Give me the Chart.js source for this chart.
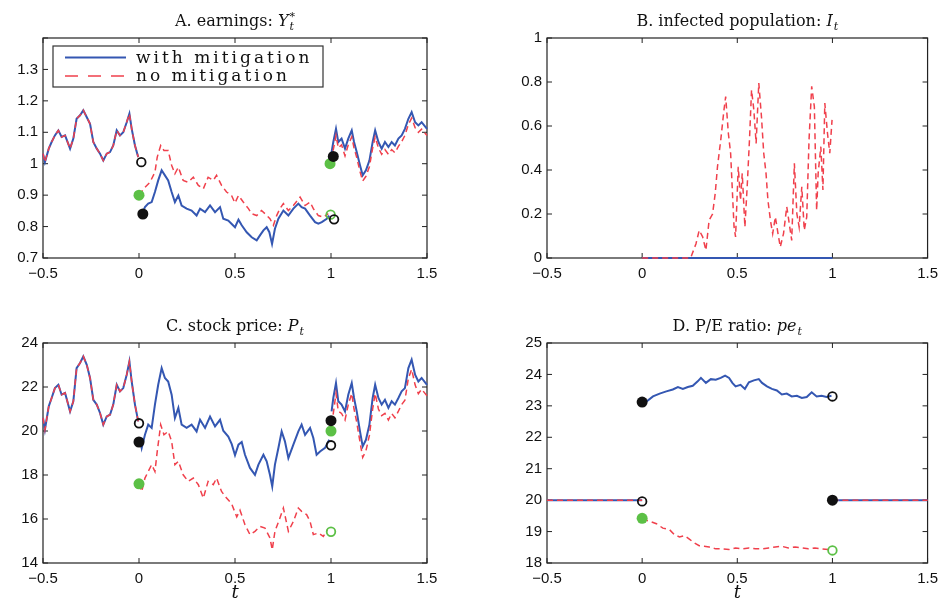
<!DOCTYPE html>
<html>
<head>
<meta charset="utf-8">
<script src="https://cdn.jsdelivr.net/npm/chart.js@4.4.1/dist/chart.umd.min.js"></script>
<style>
  body { margin: 0; background: #fff; }
  #page { position: relative; width: 945px; height: 601px; overflow: hidden; }
  .panel { position: absolute; }
</style>
</head>
<body>
<div id="page">
  <canvas class="panel" id="chartA" width="472" height="300" style="left:0;top:0"></canvas>
  <canvas class="panel" id="chartB" width="473" height="300" style="left:472px;top:0"></canvas>
  <canvas class="panel" id="chartC" width="472" height="301" style="left:0;top:300px"></canvas>
  <canvas class="panel" id="chartD" width="473" height="301" style="left:472px;top:300px"></canvas>
</div>
<script>
// ─── Data ─────────────────────────────────────────────
// shared time grids (before the epidemic, after it ends)
const tPre = [-0.5, -0.49, -0.47, -0.455, -0.438, -0.42, -0.403, -0.385, -0.359, -0.342, -0.325, -0.307, -0.29, -0.272, -0.255, -0.238, -0.22, -0.203, -0.186, -0.168, -0.151, -0.134, -0.116, -0.099, -0.082, -0.064, -0.05, -0.038, -0.021, -0.004];
const tPost = [1.003, 1.012, 1.026, 1.038, 1.055, 1.073, 1.09, 1.108, 1.12, 1.134, 1.151, 1.165, 1.182, 1.2, 1.217, 1.23, 1.247, 1.264, 1.281, 1.299, 1.316, 1.333, 1.351, 1.368, 1.385, 1.403, 1.42, 1.438, 1.455, 1.472, 1.5];

// A. earnings
const yPreA = [1.032, 1.005, 1.048, 1.069, 1.09, 1.106, 1.085, 1.09, 1.048, 1.08, 1.143, 1.154, 1.17, 1.148, 1.127, 1.069, 1.048, 1.032, 1.01, 1.032, 1.037, 1.058, 1.106, 1.09, 1.10, 1.132, 1.159, 1.111, 1.058, 1.021];
const tMidBlueA = [0.02, 0.031, 0.048, 0.066, 0.083, 0.1, 0.118, 0.135, 0.152, 0.17, 0.187, 0.205, 0.222, 0.248, 0.274, 0.3, 0.318, 0.344, 0.37, 0.396, 0.422, 0.439, 0.465, 0.483, 0.5, 0.518, 0.535, 0.561, 0.587, 0.613, 0.63, 0.648, 0.665, 0.679, 0.693, 0.708, 0.726, 0.752, 0.778, 0.804, 0.83, 0.847, 0.865, 0.891, 0.917, 0.934, 0.952, 0.978, 0.991];
const yMidBlueA = [0.845, 0.862, 0.873, 0.878, 0.91, 0.947, 0.979, 0.963, 0.947, 0.91, 0.878, 0.899, 0.867, 0.857, 0.851, 0.835, 0.857, 0.846, 0.867, 0.846, 0.862, 0.825, 0.819, 0.808, 0.798, 0.822, 0.804, 0.782, 0.766, 0.756, 0.772, 0.788, 0.798, 0.782, 0.745, 0.793, 0.825, 0.851, 0.835, 0.857, 0.873, 0.862, 0.857, 0.835, 0.814, 0.809, 0.814, 0.825, 0.835];
const tMidRedA = [0.0, 0.031, 0.057, 0.083, 0.095, 0.113, 0.13, 0.152, 0.17, 0.187, 0.205, 0.23, 0.256, 0.283, 0.309, 0.335, 0.36, 0.387, 0.404, 0.43, 0.456, 0.482, 0.5, 0.518, 0.543, 0.57, 0.587, 0.613, 0.638, 0.656, 0.682, 0.7, 0.717, 0.734, 0.752, 0.778, 0.804, 0.839, 0.865, 0.891, 0.908, 0.934, 0.96, 0.986];
const yMidRedA = [0.9, 0.925, 0.941, 0.973, 1.021, 1.058, 1.042, 1.042, 0.995, 0.968, 0.989, 0.947, 0.941, 0.957, 0.931, 0.92, 0.957, 0.947, 0.963, 0.931, 0.91, 0.899, 0.875, 0.899, 0.878, 0.857, 0.841, 0.835, 0.851, 0.841, 0.825, 0.804, 0.835, 0.857, 0.873, 0.851, 0.867, 0.894, 0.867, 0.878, 0.857, 0.835, 0.83, 0.841];
const yPostBlueA = [1.037, 1.069, 1.111, 1.069, 1.08, 1.048, 1.08, 1.106, 1.069, 1.037, 0.995, 0.963, 0.979, 1.01, 1.069, 1.106, 1.069, 1.048, 1.069, 1.053, 1.069, 1.058, 1.08, 1.09, 1.111, 1.143, 1.164, 1.132, 1.122, 1.132, 1.111];
const yPostRedA = [1.01, 1.045, 1.09, 1.05, 1.06, 1.025, 1.06, 1.085, 1.05, 1.02, 0.975, 0.945, 0.96, 0.99, 1.05, 1.085, 1.05, 1.03, 1.045, 1.03, 1.045, 1.035, 1.055, 1.07, 1.09, 1.125, 1.145, 1.115, 1.1, 1.11, 1.09];
// jump markers A
const tOpenA = [0.012, 1.016], yOpenA = [1.005, 0.823];
const tDotA = [0.02, 1.012], yDotA = [0.84, 1.023];
const tGreenA = [0.0, 0.995], yGreenA = [0.9, 1.0];
const tGreenOpenA = [0.998], yGreenOpenA = [0.838];

// B. infected population
const tInfRed = [0, 0.25, 0.257, 0.283, 0.3, 0.318, 0.335, 0.352, 0.37, 0.384, 0.396, 0.413, 0.43, 0.439, 0.453, 0.465, 0.483, 0.491, 0.505, 0.517, 0.526, 0.54, 0.552, 0.564, 0.575, 0.587, 0.599, 0.613, 0.627, 0.639, 0.651, 0.661, 0.674, 0.686, 0.7, 0.714, 0.726, 0.743, 0.76, 0.773, 0.786, 0.8, 0.813, 0.825, 0.839, 0.852, 0.865, 0.877, 0.891, 0.905, 0.917, 0.925, 0.939, 0.95, 0.96, 0.974, 0.986, 0.998];
const yInfRed = [0, 0, 0.005, 0.065, 0.126, 0.096, 0.035, 0.172, 0.2, 0.293, 0.415, 0.536, 0.673, 0.734, 0.567, 0.476, 0.141, 0.096, 0.415, 0.263, 0.385, 0.141, 0.324, 0.536, 0.764, 0.673, 0.521, 0.795, 0.643, 0.476, 0.385, 0.263, 0.172, 0.111, 0.187, 0.111, 0.05, 0.111, 0.233, 0.157, 0.08, 0.43, 0.202, 0.141, 0.324, 0.126, 0.187, 0.536, 0.78, 0.688, 0.217, 0.385, 0.506, 0.309, 0.704, 0.567, 0.476, 0.628];
const tInfBlue = [0, 1], yInfBlue = [0, 0];

// C. stock price
const yPreC = [20.6, 20.06, 21.12, 21.5, 21.95, 22.1, 21.65, 21.73, 20.89, 21.35, 22.86, 23.09, 23.39, 23.01, 22.41, 21.42, 21.2, 20.82, 20.29, 20.66, 20.74, 21.2, 22.1, 21.8, 21.95, 22.56, 23.16, 22.25, 21.2, 20.44];
const tMidBlueC = [0.005, 0.014, 0.031, 0.048, 0.066, 0.083, 0.1, 0.118, 0.135, 0.152, 0.17, 0.187, 0.205, 0.222, 0.248, 0.274, 0.3, 0.318, 0.344, 0.37, 0.396, 0.422, 0.439, 0.465, 0.483, 0.5, 0.518, 0.535, 0.552, 0.578, 0.604, 0.622, 0.648, 0.665, 0.682, 0.694, 0.708, 0.726, 0.743, 0.76, 0.778, 0.804, 0.83, 0.847, 0.865, 0.891, 0.908, 0.925, 0.943, 0.969, 0.991];
const yMidBlueC = [19.68, 19.23, 19.83, 20.29, 20.14, 21.2, 22.1, 22.86, 22.41, 22.25, 21.65, 20.59, 21.05, 20.29, 20.14, 20.29, 19.98, 20.51, 20.14, 20.66, 20.21, 20.51, 20.01, 19.75, 19.4, 18.9, 19.38, 19.5, 18.92, 18.32, 18.01, 18.47, 18.92, 18.62, 18.01, 17.48, 18.47, 19.23, 19.98, 19.53, 18.77, 19.38, 19.98, 20.29, 19.83, 20.14, 19.68, 18.92, 19.07, 19.23, 19.6];
const tMidRedC = [0.0, 0.014, 0.031, 0.048, 0.066, 0.083, 0.095, 0.113, 0.13, 0.152, 0.17, 0.187, 0.205, 0.23, 0.256, 0.283, 0.309, 0.335, 0.36, 0.387, 0.404, 0.43, 0.456, 0.482, 0.509, 0.526, 0.552, 0.578, 0.604, 0.63, 0.656, 0.682, 0.694, 0.708, 0.734, 0.752, 0.778, 0.804, 0.83, 0.847, 0.873, 0.891, 0.908, 0.934, 0.96, 0.981];
const yMidRedC = [17.6, 17.25, 17.86, 18.16, 18.47, 18.16, 19.07, 20.29, 19.83, 19.98, 19.53, 18.47, 18.62, 18.01, 17.71, 17.86, 17.56, 16.95, 17.71, 17.56, 17.86, 17.25, 16.95, 16.7, 16.1, 16.4, 15.74, 15.29, 15.44, 15.66, 15.59, 15.14, 14.6, 15.44, 16.05, 16.5, 15.44, 15.89, 16.5, 16.35, 16.2, 15.89, 15.29, 15.36, 15.21, 15.51];
const yPostBlueC = [20.89, 21.5, 22.18, 21.35, 21.2, 20.89, 21.65, 22.18, 21.5, 20.89, 19.98, 19.3, 19.6, 20.29, 21.5, 22.1, 21.5, 21.2, 21.42, 21.05, 21.35, 21.2, 21.5, 21.8, 21.95, 22.86, 23.24, 22.56, 22.25, 22.41, 22.1];
const yPostRedC = [20.3, 20.8, 21.7, 20.9, 20.8, 20.5, 21.2, 21.7, 21.0, 20.4, 19.5, 18.8, 19.1, 19.8, 21.0, 21.7, 21.0, 20.7, 20.8, 20.5, 20.8, 20.6, 20.9, 21.2, 21.4, 22.4, 22.8, 22.1, 21.7, 21.9, 21.6];
const tOpenC = [0.0, 1.0], yOpenC = [20.35, 19.35];
const tDotC = [0.0, 1.0], yDotC = [19.5, 20.47];
const tGreenC = [0.0, 1.0], yGreenC = [17.6, 20.0];
const tGreenOpenC = [1.0], yGreenOpenC = [15.42];

// D. P/E ratio
const tFlatPre = [-0.5, 0], tFlatPost = [1, 1.5], yFlat = [20, 20];
const tPeBlue = [0, 0.023, 0.057, 0.092, 0.127, 0.161, 0.188, 0.214, 0.24, 0.266, 0.292, 0.309, 0.335, 0.361, 0.387, 0.413, 0.436, 0.457, 0.474, 0.491, 0.517, 0.54, 0.561, 0.587, 0.613, 0.63, 0.656, 0.682, 0.708, 0.734, 0.76, 0.786, 0.813, 0.839, 0.865, 0.891, 0.917, 0.943, 0.969, 0.995];
const yPeBlue = [23.12, 23.14, 23.3, 23.39, 23.46, 23.52, 23.6, 23.54, 23.6, 23.64, 23.78, 23.89, 23.73, 23.85, 23.83, 23.89, 23.96, 23.89, 23.73, 23.62, 23.67, 23.54, 23.75, 23.81, 23.85, 23.73, 23.62, 23.54, 23.49, 23.36, 23.39, 23.3, 23.32, 23.25, 23.28, 23.43, 23.3, 23.32, 23.28, 23.32];
const tPeRed = [0, 0.04, 0.075, 0.109, 0.144, 0.17, 0.196, 0.222, 0.248, 0.274, 0.3, 0.326, 0.352, 0.387, 0.422, 0.457, 0.491, 0.526, 0.561, 0.596, 0.63, 0.665, 0.7, 0.734, 0.769, 0.804, 0.839, 0.873, 0.908, 0.943, 0.977];
const yPeRed = [19.4, 19.33, 19.25, 19.11, 19.06, 18.9, 18.83, 18.87, 18.76, 18.64, 18.55, 18.53, 18.51, 18.45, 18.45, 18.43, 18.48, 18.45, 18.48, 18.45, 18.45, 18.48, 18.51, 18.53, 18.48, 18.51, 18.48, 18.45, 18.48, 18.45, 18.43];
const tOpenD = [0.0, 1.0], yOpenD = [19.96, 23.3];
const tDotD = [0.0, 1.0], yDotD = [23.12, 20.0];
const tGreenD = [0.0], yGreenD = [19.42];
const tGreenOpenD = [1.0], yGreenOpenD = [18.4];

const legendLabels = ['with mitigation', 'no mitigation'];

// ─── Styling ──────────────────────────────────────────
const BLUE = '#3457b2';
const RED = '#f0404c';
const GREEN = '#5cc046';
const SERIF = '"DejaVu Serif", "Liberation Serif", serif';

Chart.defaults.font.family = '"Liberation Sans", Arial, sans-serif';
Chart.defaults.font.size = 15;
Chart.defaults.color = '#111';

function pts(ts, ys) {
    return ts.map((t, i) => ({ x: t, y: ys[i] }));
}

function blueLine(ts, ys) {
    return { data: pts(ts, ys), borderColor: BLUE, borderWidth: 2, pointRadius: 0, fill: false, tension: 0, clip: 3, order: 3 };
}
function redLine(ts, ys) {
    return { data: pts(ts, ys), borderColor: RED, borderWidth: 1.5, borderDash: [6, 4], pointRadius: 0, fill: false, tension: 0, clip: 3, order: 2 };
}
function dots(ts, ys, color) {
    return { data: pts(ts, ys), showLine: false, pointRadius: 5.5, pointBackgroundColor: color, pointBorderColor: color, pointBorderWidth: 0, order: 0 };
}
function rings(ts, ys, color) {
    return { data: pts(ts, ys), showLine: false, pointRadius: 4.3, pointBackgroundColor: 'rgba(0,0,0,0)', pointBorderColor: color, pointBorderWidth: 1.8, order: 1 };
}

// Box around the axes with inward tick marks on all four sides (matlab look)
const framePlugin = {
    id: 'frame',
    beforeDatasetsDraw(chart) {
        const { ctx, chartArea: a, scales } = chart;
        ctx.save();
        ctx.strokeStyle = '#222';
        ctx.lineWidth = 1.2;
        ctx.strokeRect(a.left, a.top, a.right - a.left, a.bottom - a.top);
        ctx.lineWidth = 1;
        const len = 5;
        ctx.beginPath();
        scales.x.ticks.forEach(tk => {
            const x = scales.x.getPixelForValue(tk.value);
            ctx.moveTo(x, a.bottom); ctx.lineTo(x, a.bottom - len);
            ctx.moveTo(x, a.top); ctx.lineTo(x, a.top + len);
        });
        scales.y.ticks.forEach(tk => {
            const y = scales.y.getPixelForValue(tk.value);
            ctx.moveTo(a.left, y); ctx.lineTo(a.left + len, y);
            ctx.moveTo(a.right, y); ctx.lineTo(a.right - len, y);
        });
        ctx.stroke();
        ctx.restore();
    }
};

// Title like "A. earnings: Y_t^*" plus optional italic axis label
const headerPlugin = {
    id: 'header',
    afterDraw(chart, args, opts) {
        const { ctx, chartArea: a } = chart;
        const size = 16, small = 11;
        const fMain = size + 'px ' + SERIF;
        const fSym = 'italic ' + size + 'px ' + SERIF;
        const fSmall = 'italic ' + small + 'px ' + SERIF;
        ctx.save();
        ctx.fillStyle = '#111';
        ctx.textBaseline = 'alphabetic';
        ctx.textAlign = 'left';
        ctx.font = fMain; const wMain = ctx.measureText(opts.text).width;
        ctx.font = fSym; const wSym = ctx.measureText(opts.sym).width;
        ctx.font = fSmall;
        const wSub = ctx.measureText(opts.sub || '').width;
        const wSup = ctx.measureText(opts.sup || '').width;
        const total = wMain + wSym + Math.max(wSub, wSup) + 1;
        let x = (a.left + a.right) / 2 - total / 2;
        const y = a.top - 12;
        ctx.font = fMain; ctx.fillText(opts.text, x, y); x += wMain;
        ctx.font = fSym; ctx.fillText(opts.sym, x, y); x += wSym + 1;
        ctx.font = fSmall;
        if (opts.sub) ctx.fillText(opts.sub, x, y + 4);
        if (opts.sup) { ctx.font = small + 'px ' + SERIF; ctx.fillText(opts.sup, x, y - 6); }
        if (opts.xLabel) {
            ctx.font = 'italic 18px ' + SERIF;
            ctx.textAlign = 'center';
            ctx.fillText(opts.xLabel, (a.left + a.right) / 2, a.bottom + 35);
        }
        ctx.restore();
    }
};

// Legend box drawn inside panel A
const boxLegendPlugin = {
    id: 'boxLegend',
    afterDraw(chart, args, opts) {
        if (!opts.labels) return;
        const { ctx, chartArea: a } = chart;
        const x0 = a.left + 10, y0 = a.top + 8, w = 270, h = 41;
        ctx.save();
        ctx.fillStyle = '#fff';
        ctx.fillRect(x0, y0, w, h);
        ctx.strokeStyle = '#333';
        ctx.lineWidth = 1.2;
        ctx.strokeRect(x0, y0, w, h);
        const rows = [
            { color: BLUE, dash: [], width: 1.8 },
            { color: RED, dash: [13, 10], width: 1.5 }
        ];
        ctx.font = '17px ' + SERIF;
        ctx.letterSpacing = '3px';
        ctx.textBaseline = 'middle';
        rows.forEach((r, i) => {
            const y = y0 + 11.5 + i * 18.5;
            ctx.strokeStyle = r.color;
            ctx.lineWidth = r.width;
            ctx.setLineDash(r.dash);
            ctx.beginPath();
            ctx.moveTo(x0 + 12, y); ctx.lineTo(x0 + 73, y);
            ctx.stroke();
            ctx.setLineDash([]);
            ctx.fillStyle = '#111';
            ctx.fillText(opts.labels[i], x0 + 83, y + 1);
        });
        ctx.restore();
    }
};

function fmtNum(v) {
    const s = String(Number(v.toFixed(2)));
    return v < 0 ? '\u2212' + s.slice(1) : s;
}

function makePanel(id, p) {
    return new Chart(document.getElementById(id), {
        type: 'line',
        data: { datasets: p.datasets },
        options: {
            responsive: false,
            animation: false,
            layout: { padding: { top: p.top, right: p.right, left: 0, bottom: 0 } },
            plugins: {
                legend: { display: false },
                tooltip: { enabled: false },
                header: p.header,
                boxLegend: p.legend || {}
            },
            scales: {
                x: {
                    type: 'linear', min: -0.5, max: 1.5,
                    grid: { display: false, drawTicks: false }, border: { display: false },
                    ticks: { stepSize: 0.5, padding: 7, maxRotation: 0, autoSkip: false, callback: v => fmtNum(v) },
                    afterFit: s => { s.height = p.xh; }
                },
                y: {
                    min: p.ymin, max: p.ymax,
                    grid: { display: false, drawTicks: false }, border: { display: false },
                    ticks: {
                        stepSize: p.ystep, padding: 5, autoSkip: false,
                        callback: v => (p.hideTop && Math.abs(v - p.ymax) < 1e-6) ? '' : fmtNum(v)
                    },
                    afterFit: s => { s.width = p.yw; }
                }
            }
        },
        plugins: [framePlugin, headerPlugin, boxLegendPlugin]
    });
}

// ─── Panel A: earnings ────────────────────────────────
makePanel('chartA', {
    top: 38, right: 45, xh: 42, yw: 43,
    ymin: 0.7, ymax: 1.4, ystep: 0.1, hideTop: true,
    header: { text: 'A. earnings: ', sym: 'Y', sub: 't', sup: '*' },
    legend: { labels: legendLabels },
    datasets: [
        blueLine(tPre, yPreA), redLine(tPre, yPreA),
        blueLine(tMidBlueA, yMidBlueA), redLine(tMidRedA, yMidRedA),
        blueLine(tPost, yPostBlueA), redLine(tPost, yPostRedA),
        rings(tOpenA, yOpenA, '#111'), dots(tDotA, yDotA, '#111'),
        dots(tGreenA, yGreenA, GREEN), rings(tGreenOpenA, yGreenOpenA, GREEN)
    ]
});

// ─── Panel B: infected population ─────────────────────
makePanel('chartB', {
    top: 38, right: 15, xh: 42, yw: 75,
    ymin: 0, ymax: 1, ystep: 0.2,
    header: { text: 'B. infected population: ', sym: 'I', sub: 't' },
    datasets: [
        blueLine(tInfBlue, yInfBlue), redLine(tInfRed, yInfRed)
    ]
});

// ─── Panel C: stock price ─────────────────────────────
makePanel('chartC', {
    top: 43, right: 45, xh: 38, yw: 43,
    ymin: 14, ymax: 24, ystep: 2,
    header: { text: 'C. stock price: ', sym: 'P', sub: 't', xLabel: 't' },
    datasets: [
        blueLine(tPre, yPreC), redLine(tPre, yPreC),
        blueLine(tMidBlueC, yMidBlueC), redLine(tMidRedC, yMidRedC),
        blueLine(tPost, yPostBlueC), redLine(tPost, yPostRedC),
        rings(tOpenC, yOpenC, '#111'), dots(tDotC, yDotC, '#111'),
        dots(tGreenC, yGreenC, GREEN), rings(tGreenOpenC, yGreenOpenC, GREEN)
    ]
});

// ─── Panel D: P/E ratio ───────────────────────────────
makePanel('chartD', {
    top: 43, right: 15, xh: 38, yw: 75,
    ymin: 18, ymax: 25, ystep: 1,
    header: { text: 'D. P/E ratio: ', sym: 'pe', sub: 't', xLabel: 't' },
    datasets: [
        blueLine(tFlatPre, yFlat), redLine(tFlatPre, yFlat),
        blueLine(tPeBlue, yPeBlue), redLine(tPeRed, yPeRed),
        blueLine(tFlatPost, yFlat), redLine(tFlatPost, yFlat),
        rings(tOpenD, yOpenD, '#111'), dots(tDotD, yDotD, '#111'),
        dots(tGreenD, yGreenD, GREEN), rings(tGreenOpenD, yGreenOpenD, GREEN)
    ]
});
</script>
</body>
</html>
